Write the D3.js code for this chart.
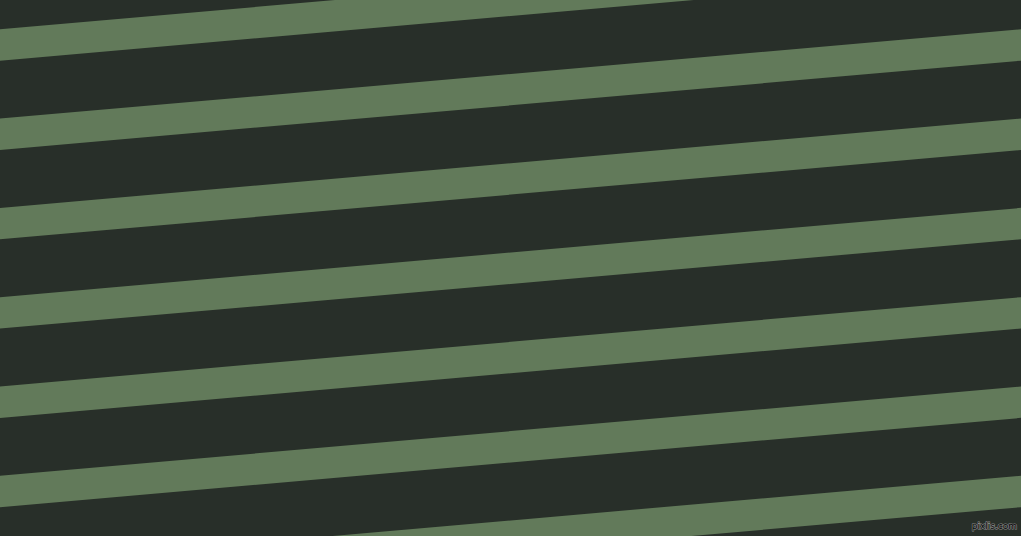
<!DOCTYPE html>
<html>
<head>
<meta charset="utf-8">
<script src="https://cdn.jsdelivr.net/npm/d3@7"></script>
<style>
  html, body { margin: 0; padding: 0; background: #282f29; overflow: hidden; }
</style>
</head>
<body>
<div id="chart"></div>
<script>
// stripe data
var stripeIndex = [-1, 0, 1, 2, 3, 4, 5, 6];
var stripeColors = ["#282f29", "#627a5a"];
var watermark = ["pixlis.com"];

var width = 1021, height = 536;
var angle = -5;           // tilt of the stripes, degrees
var period = 89.3;        // vertical distance between stripes at x = 0
var firstTop = 29.3;      // top edge of stripe 0 at x = 0
var thick = 31.4;         // vertical thickness of a stripe

var y = d3.scaleLinear()
  .domain([0, 1])
  .range([firstTop, firstTop + period]);

var svg = d3.select("#chart")
  .append("svg")
  .attr("width", width)
  .attr("height", height)
  .style("display", "block");

svg.append("rect")
  .attr("width", width)
  .attr("height", height)
  .attr("fill", stripeColors[0]);

// stripes
svg.append("g")
  .selectAll("rect")
  .data(stripeIndex)
  .enter()
  .append("rect")
  .attr("x", -200)
  .attr("y", 0)
  .attr("width", width + 400)
  .attr("height", thick * Math.cos(Math.abs(angle) * Math.PI / 180))
  .attr("transform", function(d) { return "translate(0," + y(d) + ") rotate(" + angle + ")"; })
  .attr("fill", stripeColors[1]);

// little site mark bottom right
svg.selectAll("text.mark")
  .data(watermark)
  .enter()
  .append("text")
  .attr("class", "mark")
  .attr("x", 1017)
  .attr("y", 529)
  .attr("text-anchor", "end")
  .style("font-family", "DejaVu Sans, sans-serif")
  .style("font-size", "9px")
  .style("fill", "#000")
  .style("stroke", "#8a8a8a")
  .style("stroke-width", 1.2)
  .style("paint-order", "stroke")
  .text(function(d) { return d; });
</script>
</body>
</html>
